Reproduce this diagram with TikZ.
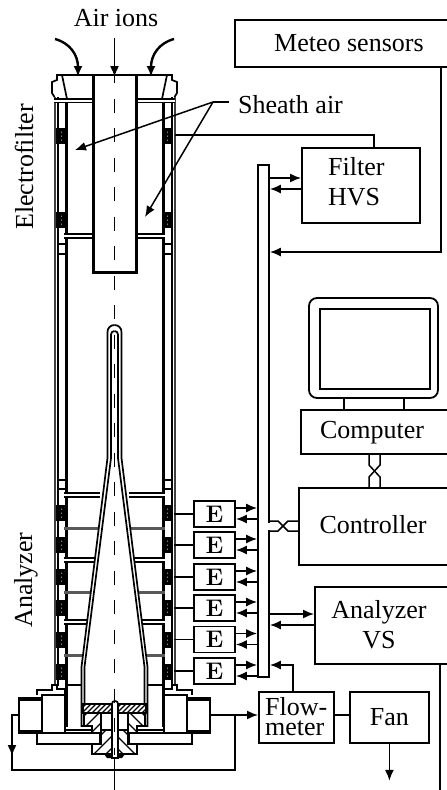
\documentclass[tikz,border=0pt]{standalone}
\usepackage{fontspec}
\setmainfont{Liberation Serif}
\usetikzlibrary{arrows.meta}
\tikzset{
  every node/.style={font=\fontsize{26}{30}\selectfont},
  box/.style={draw,line width=1.8pt,fill=white,inner sep=0pt},
  ebox/.style={box,minimum width=41pt,minimum height=26pt,font=\usefont{TU}{lmr}{bx}{n}\fontsize{24}{26}\selectfont},
  wire/.style={line width=1.5pt},
  arr/.style={wire,-{Latex[length=11pt,width=9pt]}},
  thickwall/.style={line width=3pt},
  wall/.style={line width=1.7pt},
  rungA/.style={line width=1.6pt,double distance=2pt,double=white},
  rungB/.style={line width=3pt,draw=black!65},
  hatch/.style={line width=1.3pt}
}
\newcommand{\hatchpoly}[2]{%
  \begin{scope}
    \clip #1;
    \foreach \k in {-300,#2,...,1100} {\draw[hatch] (\k,800) -- ++(120,-120);}
  \end{scope}
  \draw[wall] #1;}
\newcommand{\halfbody}{%
  % cap
  \draw[wall] (114,75) -- (57,75) -- (57,80) -- (52,82) -- (52,93) -- (54.5,97);
  \draw[wall] (62,75) -- (67,99);
  % outer walls
  \draw[line width=2pt,draw=black!75] (54.5,97) -- (54.5,686);
  \draw[line width=2pt] (57.5,97) -- (57.5,686);
  % inner wall
  \draw[thickwall] (66,102) -- (66,234);
  \draw[thickwall] (66,238) -- (66,493);
  \draw[thickwall] (66,497) -- (66,727);
  \draw[rungA] (54,100.5) -- (93,100.5);
  \draw[rungA] (64,236) -- (93,236);
  % ladder rungs between the walls
  \foreach \y in {244,254,480,489} {\draw[wall] (57,\y) -- (65,\y);}
  % tube
  \draw[line width=3pt] (93,75) -- (93,272) -- (114.5,272);
  % seals
  \foreach \y in {128,212,505,537,569,600,632,664} {
    \fill (56,\y) rectangle (67,\y+16);
    \foreach \d in {4,8,12} {\fill[white] (61.5,\y+\d) circle (.5pt);}
  }
  % analyzer rungs
  \foreach \y in {495,560,622} {\draw[rungA] (64,\y) -- (100,\y);}
  \foreach \y in {528,592,655} {\draw[rungB] (64,\y) -- (100,\y);}
  \draw[wall] (66,685) -- (82,685);
  % collector
  \fill[white] (114.5,325) -- (107.5,332) -- (107.5,458) -- (81.5,667) -- (81.5,726) -- (114.5,726) -- cycle;
  \draw[wall] (114.5,325) .. controls (110.5,325) and (107.5,328) .. (107.5,332) -- (107.5,458) -- (81.5,667) -- (81.5,726) -- (92,726);
  \draw[wall] (114.5,331) .. controls (112.5,331) and (111,332.5) .. (111,334.5) -- (111,458) -- (84.5,667) -- (84.5,704);
  % base
  \draw[wall] (66,730) -- (92,730);
  \draw[box] (42,695) rectangle (65,733);
  \draw[wall] (37,695) -- (37,690) -- (52,690) -- (52,685) -- (57,685) -- (57,689) -- (65,689) -- (65,695);
  \draw[box] (19,698) rectangle (42,733);
  \fill (19,698) rectangle (42,701);
  \fill (19,730) rectangle (42,733);
  \draw[box] (37,733) rectangle (100,744);
  \hatchpoly{(84,713) -- (101,713) -- (101,733) -- (92,733) -- (92,726) -- (84,726) -- cycle}{-288}
  \hatchpoly{(101,730) -- (112,730) -- (112,754) -- (92,754) -- (92,744) -- (101,744) -- cycle}{-288}
  \fill (104,754) -- (107,758) -- (114.5,758) -- (114.5,754) -- cycle;
}
\begin{document}
\begin{tikzpicture}[x=1pt,y=-1pt]
\clip (0,0) rectangle (447,790);
\fill[white] (0,0) rectangle (447,790);
% mirrored halves of the instrument
\halfbody
\begin{scope}[shift={(229,0)},xscale=-1]\halfbody\end{scope}
% dense hatched ring
\fill[white] (83,704) rectangle (146,713);
\hatchpoly{(83,704) rectangle (146,713)}{-295}
% stem
\draw[wall,fill=white] (112,758) -- (112,704) .. controls (112,702) and (113,701) .. (115,701) .. controls (117,701) and (118,702) .. (118,704) -- (118,758) -- cycle;
% axis
\draw[line width=1.5pt,dash pattern=on 14pt off 15.5pt] (114.5,69) -- (114.5,755);
\coordinate (axisEnd) at (114.5,758);
\coordinate (axisOut) at (114.5,790);
\draw[wire] (axisEnd) -- (axisOut);
% inlet arrows
\node (airions) at (116,18) {Air ions};
\coordinate (inA) at (114.5,38);
\coordinate (inAend) at (114.5,77);
\draw[arr] (inA) -- (inAend);
\coordinate (inL) at (55,39);
\coordinate (inLend) at (78,77);
\draw[arr,line width=2.4pt] (inL) .. controls (70,43) and (78,55) .. (inLend);
\coordinate (inR) at (174,39);
\coordinate (inRend) at (151,77);
\draw[arr,line width=2.4pt] (inR) .. controls (159,43) and (151,55) .. (inRend);
% side labels
\node[rotate=90] (electro) at (24,167) {Electrofilter};
\node[rotate=90] (analyzer) at (26,580) {Analyzer};
% sheath air
\node[anchor=west,inner sep=0pt] (sheath) at (238,105) {Sheath air};
\coordinate (sh) at (213,102);
\coordinate (shL) at (75,150);
\coordinate (shR) at (145,217);
\draw[wire] (sh) -- (229,102);
\draw[arr] (sh) -- (shL);
\draw[arr] (sh) -- (shR);
% bus
\node[box,minimum width=11pt,minimum height=512pt] (bus) at (263.5,421) {};
\draw[white,line width=2.5pt] (269,522.5) -- (269,529.5);
% boxes
\node[box,anchor=north west,minimum width=228pt,minimum height=47pt] (meteo) at (234,19) {Meteo sensors};
\node[box,anchor=north west,minimum width=118pt,minimum height=75pt] (filter) at (301,147) {};
\node[anchor=west,align=left,inner sep=0pt] (filtertext) at (328,182) {Filter\\HVS};
\draw[line width=1.8pt,rounded corners=8pt] (309,298) rectangle (438,398);
\node[box,anchor=north west,minimum width=110pt,minimum height=80pt] (screen) at (319,308) {};
\coordinate (st1) at (344,398);
\coordinate (st2) at (404,398);
\node[box,anchor=north west,minimum width=160pt,minimum height=44pt] (computer) at (300,409) {};
\node (computertext) at (372,433) {Computer};
\draw[wire] (st1) -- (st1 |- computer.north);
\draw[wire] (st2) -- (st2 |- computer.north);
\node[box,anchor=north west,minimum width=160pt,minimum height=77pt] (controller) at (298,487) {};
\node (controllertext) at (373,525) {Controller};
\node[box,anchor=north west,minimum width=150pt,minimum height=77pt] (avs) at (314,586) {};
\node[align=center] (avstext) at (379,625) {Analyzer\\VS};
\node[box,anchor=north west,minimum width=75pt,minimum height=51pt] (flow) at (258,691) {};
\node[anchor=west,align=left,inner sep=0pt,font=\fontsize{26}{20}\selectfont] (flowtext) at (265,717) {Flow-\\meter};
\node[box,anchor=north west,minimum width=79pt,minimum height=51pt] (fan) at (349,691) {Fan};
% E boxes
\foreach \i/\y in {1/514,2/545,3/577,4/608,5/639.5,6/671}{
  \node[ebox] (e\i) at (214.5,\y) {E};
  \coordinate (s\i) at (174,\y);
  \draw[wire] (s\i) -- (e\i.west);
  \coordinate (eo) at ([yshift=6pt]e\i.east);
  \coordinate (ei) at ([yshift=-5pt]e\i.east);
  \draw[arr] (eo) -- (eo -| bus.west);
  \draw[arr] (ei -| bus.west) -- (ei);
}
% filter connections
\draw[arr] (bus.east |- 0,178) -- (filter.west |- 0,178);
\draw[arr] (filter.west |- 0,189) -- (bus.east |- 0,189);
\coordinate (fsup) at (175,135);
\draw[wire] (fsup) -| (374,147);
% meteo
\draw[arr] (441,66) |- (bus.east |- 0,252);
% computer - controller
\draw[wire] (369,453) -- (369,465) -- (380,477) -- (380,487);
\draw[wire] (380,453) -- (380,465) -- (369,477) -- (369,487);
% controller - bus
\draw[wire] (269,521) -- (278,521) -- (288,531) -- (298,531);
\draw[wire] (269,531) -- (278,531) -- (288,521) -- (298,521);
% analyzer VS
\draw[arr] (bus.east |- 0,614) -- (avs.west |- 0,614);
\draw[arr] (avs.west |- 0,625) -- (bus.east |- 0,625);
\draw[wire] (440,663) -- (440,790);
% flowmeter
\draw[arr] (293,691) |- (bus.east |- 0,665);
\coordinate (fin) at (211,715);
\draw[arr] (fin) -- (flow.west |- fin);
\draw[wire] (flow.east |- fin) -- (fan.west |- fin);
\draw[arr] (fan.south) -- ++(0,37);
\coordinate (lp) at (235,715);
\draw[wire] (lp) |- (12,770) -- (12,715) -- (19,715);
\draw[arr] (12,715) -- (12,756);
\end{tikzpicture}
\end{document}
